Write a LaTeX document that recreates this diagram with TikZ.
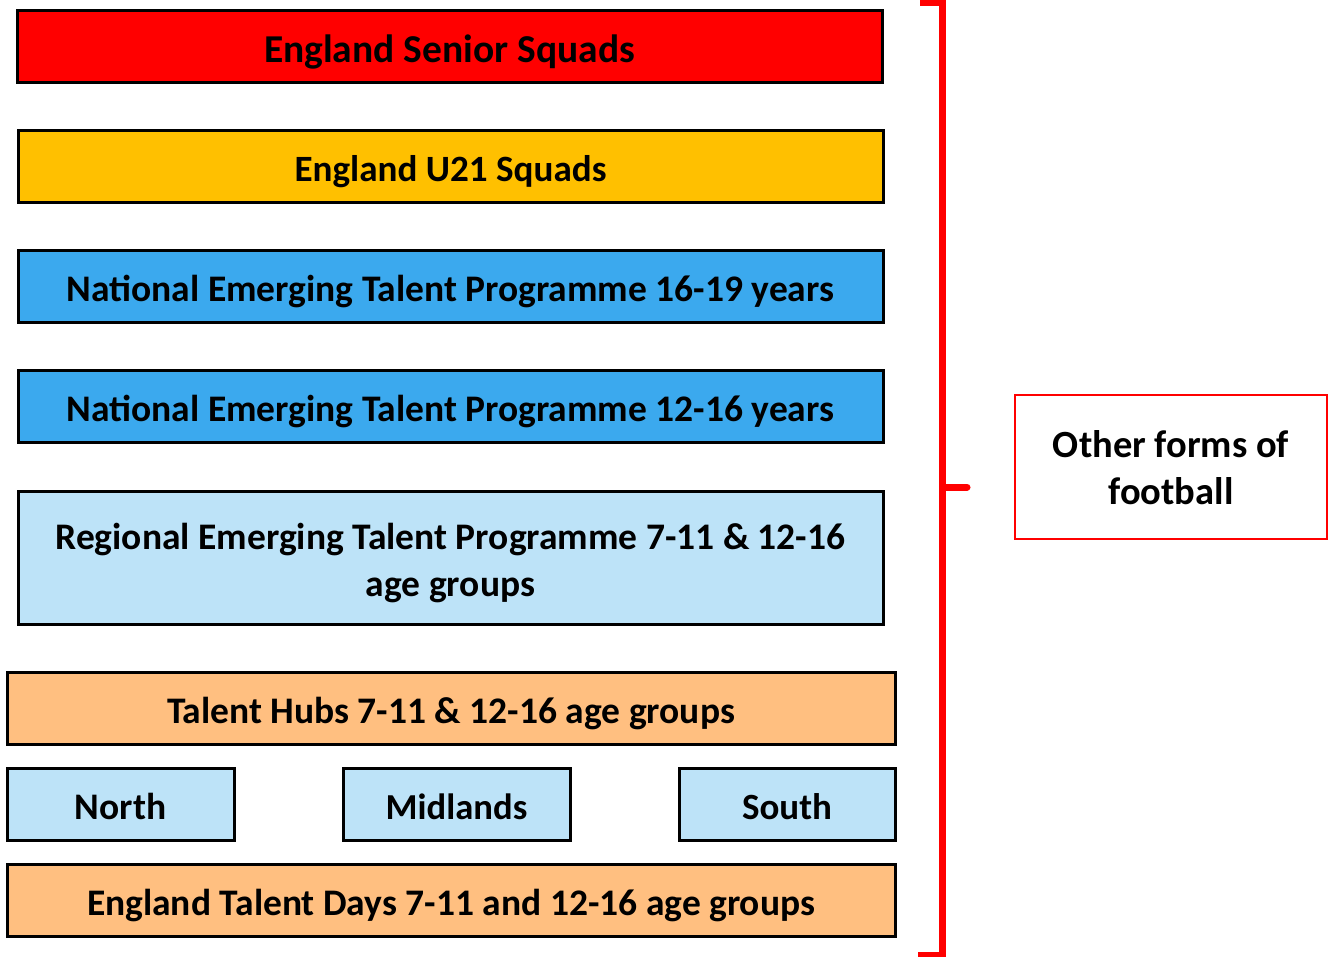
\documentclass[tikz,border=0pt]{standalone}
\usepackage{fontspec}
\setmainfont{Carlito}
\definecolor{cred}{HTML}{FF0000}
\definecolor{cgold}{HTML}{FFC000}
\definecolor{cblue}{HTML}{3BA9EE}
\definecolor{clight}{HTML}{BDE3F8}
\definecolor{cpeach}{HTML}{FFBF80}
\begin{document}
\begin{tikzpicture}[x=1pt,y=-1pt,
  tier/.style={draw=black,line width=3pt,inner sep=0pt,font=\fontsize{37.5}{47}\selectfont\bfseries,align=center,text height=30pt,text depth=0pt},
  note/.style={draw=cred,line width=2pt,fill=white,inner sep=0pt,font=\fontsize{38.5}{47}\selectfont\bfseries,align=center,text height=74pt,text depth=0pt},
  bracket/.style={draw=cred,line width=7pt}]
\useasboundingbox (0,0) rectangle (1331,957);
\node[tier,fill=cred,minimum width=865pt,minimum height=72pt,font=\fontsize{39.5}{47}\selectfont\bfseries,text height=31.4pt] (senior) at (449.5,47) {England Senior Squads};
\node[tier,fill=cgold,minimum width=865pt,minimum height=72pt,font=\fontsize{37.1}{47}\selectfont\bfseries] (u21) at (450.5,167) {England U21 Squads};
\node[tier,fill=cblue,minimum width=865pt,minimum height=72pt] (n1619) at (450.5,287) {National Emerging Talent Programme 16-19 years};
\node[tier,fill=cblue,minimum width=865pt,minimum height=72pt] (n1216) at (450.5,407) {National Emerging Talent Programme 12-16 years};
\node[tier,fill=clight,minimum width=865pt,minimum height=133pt,text height=77pt] (regional) at (450.5,557.5) {Regional Emerging Talent Programme 7-11 \& 12-16\\age groups};
\node[tier,fill=cpeach,minimum width=888pt,minimum height=72pt] (hubs) at (451,708) {Talent Hubs 7-11 \& 12-16 age groups};
\node[tier,fill=clight,minimum width=227pt,minimum height=72pt] (north) at (120.5,804) {North};
\node[tier,fill=clight,minimum width=227pt,minimum height=72pt,font=\fontsize{36.6}{47}\selectfont\bfseries] (midlands) at (456.5,804) {Midlands};
\node[tier,fill=clight,minimum width=216pt,minimum height=72pt,font=\fontsize{37}{47}\selectfont\bfseries] (south) at (787,804) {South};
\node[tier,fill=cpeach,minimum width=888pt,minimum height=72pt] (days) at (451,900) {England Talent Days 7-11 and 12-16 age groups};
\node[note,minimum width=312pt,minimum height=144pt] (other) at (1171,467) {Other forms of\\football};
\coordinate (btl) at (920,3);
\coordinate (btr) at (942.5,3);
\coordinate (bbr) at (942.5,955);
\coordinate (bbl) at (918,955);
\coordinate (bmid) at (942.5,487);
\coordinate (btip) at (967,487);
\draw[bracket] (btl) -- (btr) -- (bbr) -- (bbl);
\draw[bracket,line cap=round] (bmid) -- (btip);
\end{tikzpicture}
\end{document}
